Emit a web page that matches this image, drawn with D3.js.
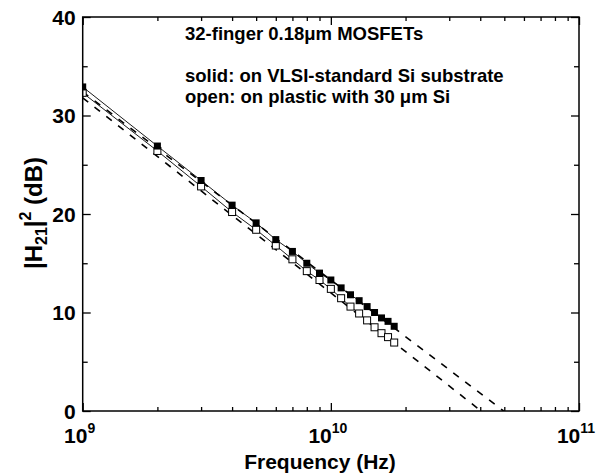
<!DOCTYPE html>
<html>
<head>
<meta charset="utf-8">
<script src="https://cdn.jsdelivr.net/npm/d3@7.9.0/dist/d3.min.js"></script>
<style>
  body { margin: 0; background: #fff; }
  svg { display: block; font-family: "Liberation Sans", Arial, sans-serif; font-weight: bold; }
</style>
</head>
<body>
<svg id="chart" width="598" height="474"></svg>
<script>
// frequencies in Hz
const freqs = [1e9, 2e9, 3e9, 4e9, 5e9, 6e9, 7e9, 8e9, 9e9, 10e9, 11e9, 12e9, 13e9, 14e9, 15e9, 16e9, 17e9, 18e9];
// |H21|^2 in dB, VLSI-standard Si substrate (solid squares)
const solidDb = [32.9, 26.9, 23.4, 20.9, 19.1, 17.4, 16.2, 15.0, 14.0, 13.3, 12.5, 11.8, 11.2, 10.6, 10.0, 9.45, 9.1, 8.6];
// plastic with 30 um Si (open squares)
const openDb = [32.3, 26.4, 22.8, 20.2, 18.4, 16.8, 15.4, 14.2, 13.3, 12.4, 11.45, 10.6, 9.9, 9.2, 8.5, 7.9, 7.5, 6.95];
// extrapolated fit lines (dashed)
const solidFit = [[1e9, 32.4], [4.97e10, 0]];
const openFit = [[1e9, 31.8], [4.03e10, 0]];
const yTicks = [0, 10, 20, 30, 40];
const xDecades = [1e9, 1e10, 1e11];

const svg = d3.select('#chart');
const mLeft = 82.7, mRight = 579, mTop = 17, mBottom = 411;

const x = d3.scaleLog().domain([1e9, 1e11]).range([mLeft, mRight]);
const y = d3.scaleLinear().domain([0, 40]).range([mBottom, mTop]);

svg.append('defs').append('clipPath').attr('id', 'clip')
  .append('rect').attr('x', mLeft).attr('y', mTop)
  .attr('width', mRight - mLeft).attr('height', mBottom - mTop);

const plot = svg.append('g').attr('clip-path', 'url(#clip)');

const line = d3.line().x(d => x(d[0])).y(d => y(d[1]));

// dashed fits
[solidFit, openFit].forEach(fit => {
  plot.append('path').attr('d', line(fit))
    .attr('fill', 'none').attr('stroke', '#000')
    .attr('stroke-width', 1.6).attr('stroke-dasharray', '7,8');
});

// connecting lines
[solidDb, openDb].forEach(vals => {
  plot.append('path').attr('d', line(freqs.map((f, i) => [f, vals[i]])))
    .attr('fill', 'none').attr('stroke', '#000').attr('stroke-width', 0.9);
});

const sq = 7;
// open squares
plot.selectAll('rect.open').data(freqs).join('rect')
  .attr('class', 'open')
  .attr('x', d => x(d) - sq / 2).attr('y', (d, i) => y(openDb[i]) - sq / 2)
  .attr('width', sq).attr('height', sq)
  .attr('fill', '#fff').attr('stroke', '#000').attr('stroke-width', 1);
// solid squares
plot.selectAll('rect.solid').data(freqs).join('rect')
  .attr('class', 'solid')
  .attr('x', d => x(d) - sq / 2).attr('y', (d, i) => y(solidDb[i]) - sq / 2)
  .attr('width', sq).attr('height', sq)
  .attr('fill', '#000');

// axes
const yMinor = d3.range(5, 40, 10);
const xMinor = [];
[1e9, 1e10].forEach(dec => d3.range(2, 10).forEach(k => xMinor.push(dec * k)));

function axisGroup(axisFn, scale, ticks, size, transform) {
  const g = svg.append('g').attr('transform', transform)
    .call(axisFn(scale).tickValues(ticks).tickSize(size).tickFormat(''));
  g.select('.domain').remove();
  g.selectAll('line').attr('stroke-width', 1.3);
  return g;
}
axisGroup(d3.axisRight, y, yTicks, 8, `translate(${mLeft},0)`);
axisGroup(d3.axisRight, y, yMinor, 5, `translate(${mLeft},0)`);
axisGroup(d3.axisLeft, y, yTicks, 8, `translate(${mRight},0)`);
axisGroup(d3.axisLeft, y, yMinor, 5, `translate(${mRight},0)`);
axisGroup(d3.axisTop, x, xDecades, 8, `translate(0,${mBottom})`);
axisGroup(d3.axisTop, x, xMinor, 4, `translate(0,${mBottom})`);
axisGroup(d3.axisBottom, x, xDecades, 8, `translate(0,${mTop})`);
axisGroup(d3.axisBottom, x, xMinor, 4, `translate(0,${mTop})`);

svg.append('rect').attr('x', mLeft).attr('y', mTop)
  .attr('width', mRight - mLeft).attr('height', mBottom - mTop)
  .attr('fill', 'none').attr('stroke', '#000').attr('stroke-width', 1.5);

// y tick labels
svg.selectAll('text.ylab').data(yTicks).join('text')
  .attr('class', 'ylab')
  .attr('x', mLeft - 7).attr('y', d => y(d) + 7.5)
  .attr('text-anchor', 'end').attr('font-size', 21)
  .text(d => d);

// x tick labels 10^n
xDecades.forEach(d => {
  const t = svg.append('text').attr('x', x(d) - 3).attr('y', 443)
    .attr('text-anchor', 'middle').attr('font-size', 21);
  t.append('tspan').text('10');
  t.append('tspan').attr('dy', -10).attr('font-size', 14).text(Math.round(Math.log10(d)));
});

svg.append('text').attr('x', 320).attr('y', 469)
  .attr('text-anchor', 'middle').attr('font-size', 21)
  .text('Frequency (Hz)');

// y label
const yl = svg.append('text')
  .attr('transform', 'translate(42,213) rotate(-90)')
  .attr('text-anchor', 'middle').attr('font-size', 24);
yl.append('tspan').text('|H');
yl.append('tspan').attr('dy', 5).attr('font-size', 16).text('21');
yl.append('tspan').attr('dy', -5).text('|');
yl.append('tspan').attr('dy', -11).attr('font-size', 16).text('2');
yl.append('tspan').attr('dy', 11).text(' (dB)');

// annotations
const notes = [
  { text: '32-finger 0.18\u03bcm MOSFETs', y: 40 },
  { text: 'solid: on VLSI-standard Si substrate', y: 81.5 },
  { text: 'open: on plastic with 30 \u03bcm Si', y: 102.5 }
];
svg.selectAll('text.note').data(notes).join('text')
  .attr('class', 'note')
  .attr('x', 185).attr('y', d => d.y)
  .attr('font-size', 18.5)
  .text(d => d.text);
</script>
</body>
</html>
